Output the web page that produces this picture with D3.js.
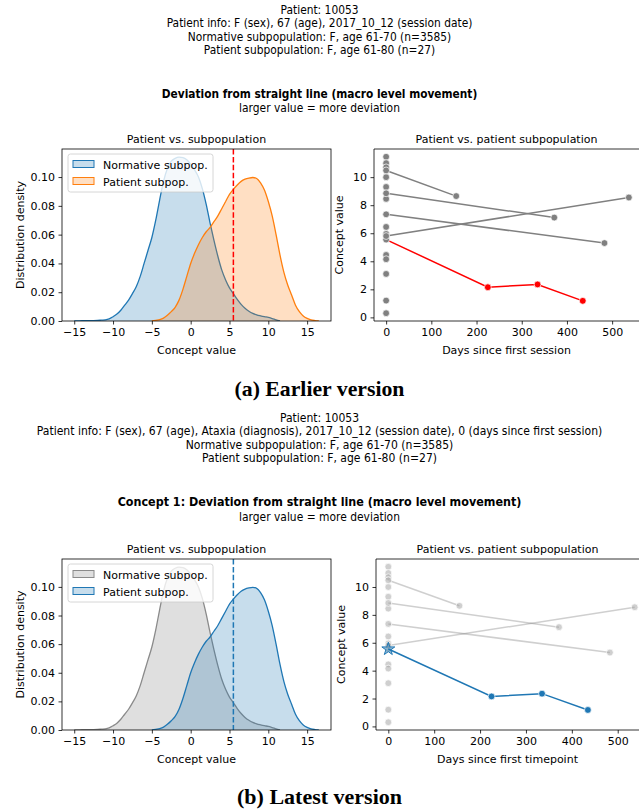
<!DOCTYPE html>
<html><head><meta charset="utf-8">
<script src="https://cdn.jsdelivr.net/npm/d3@7"></script>
<style>
body{margin:0;background:#fff}
svg{display:block}
text{font-family:"DejaVu Sans",sans-serif;fill:#000}
</style>
</head><body>
<svg id="fig" width="639" height="812"></svg>
<script>
// ---------------- DATA ----------------
const densityGrid = [-15,-14.5,-14,-13.5,-13,-12.5,-12,-11.5,-11,-10.5,
  -10,-9.5,-9,-8.5,-8,-7.5,-7,-6.5,-6,-5.5,
  -5,-4.5,-4,-3.5,-3,-2.5,-2,-1.5,-1,-0.5,
  0,0.5,1,1.5,2,2.5,3,3.5,4,4.5,
  5,5.5,6,6.5,7,7.5,8,8.5,9,9.5,
  10,10.5,11,11.5,12,12.5,13,13.5,14,14.5,
  15,15.5,16,16.5];
const normativeDensity = [0,0.0001,0.0002,0.0002,0.0003,0.0003,0.0004,0.0006,0.0008,0.0015,
  0.003,0.0048,0.0075,0.011,0.0145,0.019,0.024,0.031,0.040,0.049,
  0.058,0.070,0.084,0.097,0.106,0.111,0.113,0.1138,0.1135,0.112,
  0.109,0.105,0.100,0.092,0.081,0.068,0.056,0.045,0.0355,0.0285,
  0.023,0.019,0.015,0.0115,0.0088,0.0068,0.0053,0.0043,0.0036,0.003,
  0.0025,0.0017,0.0008,0,null,null,null,null,null,null,
  null,null,null,null];
const patientDensity = [null,null,null,null,null,null,null,null,null,null,
  null,null,null,null,null,null,null,null,null,null,
  0,0.0005,0.001,0.002,0.004,0.0065,0.0095,0.0145,0.022,0.031,
  0.040,0.047,0.053,0.058,0.062,0.065,0.069,0.073,0.078,0.083,
  0.088,0.0915,0.0945,0.097,0.0985,0.0993,0.0997,0.099,0.096,0.091,
  0.083,0.073,0.060,0.046,0.034,0.025,0.018,0.011,0.0065,0.0035,
  0.0018,0.0008,0.0003,0];
const patientConceptValue = 5.5;
const densityTicksX = [-15,-10,-5,0,5,10,15];
const densityTicksY = [0,0.02,0.04,0.06,0.08,0.10];

// patient subpopulation: single sessions (day 0) and multi-session trajectories
const subpopSingleValues = [11.45,11.0,10.7,10.0,9.3,8.45,6.45,5.95,5.55,4.45,4.15,3.1,1.2,0.3];
const subpopTrajDays   = [[0,155],[0,372],[0,483],[0,537]];
const subpopTrajValues = [[10.48,8.65],[8.85,7.12],[7.35,5.3],[5.8,8.55]];
const patientDays   = [0,225,335,435];
const patientValues = [5.55,2.15,2.35,1.18];
const dayTicks = [0,100,200,300,400,500];
const valueTicks = [0,2,4,6,8,10];

const headerA = ["Patient: 10053",
  "Patient info: F (sex), 67 (age), 2017_10_12 (session date)",
  "Normative subpopulation: F, age 61-70 (n=3585)",
  "Patient subpopulation: F, age 61-80 (n=27)"];
const headerB = ["Patient: 10053",
  "Patient info: F (sex), 67 (age), Ataxia (diagnosis), 2017_10_12 (session date), 0 (days since first session)",
  "Normative subpopulation: F, age 61-70 (n=3585)",
  "Patient subpopulation: F, age 61-80 (n=27)"];
const conceptTitleA = "Deviation from straight line (macro level movement)";
const conceptTitleB = "Concept 1:  Deviation from straight line (macro level movement)";
const conceptSubtitle = "larger value = more deviation";
const legendLabels = ["Normative subpop.","Patient subpop."];

// ---------------- DRAW ----------------
const svg = d3.select("#fig");
svg.append("rect").attr("width",639).attr("height",812).attr("fill","#fff");
const BLUE="#1f77b4", ORANGE="#ff7f0e";
const FS = "11px";

// centred text squeezed horizontally to a target width via a transform
function squeezed(y, s, width, opts){
  const g = svg.append("g");
  const t = g.append("text").attr("x",0).attr("y",0).attr("text-anchor","middle")
     .style("font-size",opts.size).style("font-weight",opts.weight||"normal").text(s);
  if(opts.family) t.style("font-family",opts.family);
  const w = t.node().getComputedTextLength();
  const k = width ? width / w : 1;
  g.attr("transform",`translate(319.5,${y}) scale(${k},1)`);
  return k;
}
function header(lines, y0, refWidth, refIdx, size){
  // measure the reference line to find a common squeeze factor
  const tmp = svg.append("text").style("font-size",size).text(lines[refIdx]);
  const k = refWidth / tmp.node().getComputedTextLength();
  tmp.remove();
  lines.forEach((s,i)=>{
    const g = svg.append("g").attr("transform",`translate(319.5,${y0+i*13.4}) scale(${k},1)`);
    g.append("text").attr("text-anchor","middle").style("font-size",size).text(s);
  });
}

function styleAxis(g){
  g.selectAll("path").remove();
  g.selectAll("line").attr("stroke","#000").attr("stroke-width",0.8);
  g.selectAll("text").style("font-size",FS).style("font-family","\"DejaVu Sans\",sans-serif").attr("fill","#000");
}
function frame(box){
  svg.append("rect").attr("x",box.l).attr("y",box.t).attr("width",box.r-box.l).attr("height",box.b-box.t)
    .attr("fill","none").attr("stroke","#000").attr("stroke-width",0.8);
}
function pad(ext){ const d=(ext[1]-ext[0])*0.05; return [ext[0]-d, ext[1]+d]; }

function densityPanel(box, normStyle, patStyle, lineColor){
  const xs = d3.scaleLinear().domain(pad([densityGrid[0], densityGrid[densityGrid.length-1]])).range([box.l,box.r]);
  const ymax = d3.max([...normativeDensity, ...patientDensity]);
  const ys = d3.scaleLinear().domain([0, ymax*1.05]).range([box.b,box.t]);
  const clipId = "c"+Math.round(box.t);
  svg.append("clipPath").attr("id",clipId).append("rect").attr("x",box.l).attr("y",box.t).attr("width",box.r-box.l).attr("height",box.b-box.t);
  const g = svg.append("g").attr("clip-path",`url(#${clipId})`);
  const series = [[normativeDensity,normStyle],[patientDensity,patStyle]];
  series.forEach(([vals,st])=>{
    const pts = densityGrid.map((x,i)=>[x,vals[i]]).filter(p=>p[1]!==null);
    const area = d3.area().x(p=>xs(p[0])).y0(ys(0)).y1(p=>ys(p[1])).curve(d3.curveMonotoneX);
    const line = d3.line().x(p=>xs(p[0])).y(p=>ys(p[1])).curve(d3.curveMonotoneX);
    g.append("path").attr("d",area(pts)).attr("fill",st.color).attr("fill-opacity",0.25);
    g.append("path").attr("d",line(pts)).attr("fill","none").attr("stroke",st.stroke||st.color).attr("stroke-width",1.3);
  });
  g.append("line").attr("x1",xs(patientConceptValue)).attr("x2",xs(patientConceptValue))
    .attr("y1",box.t).attr("y2",box.b).attr("stroke",lineColor).attr("stroke-width",1.5).attr("stroke-dasharray","5.5,2.4");
  const ax = svg.append("g").attr("transform",`translate(0,${box.b})`)
    .call(d3.axisBottom(xs).tickValues(densityTicksX).tickSize(3.5).tickPadding(3.5)); styleAxis(ax);
  const ay = svg.append("g").attr("transform",`translate(${box.l},0)`)
    .call(d3.axisLeft(ys).tickValues(densityTicksY).tickFormat(d3.format(".2f")).tickSize(3.5).tickPadding(3.5)); styleAxis(ay);
  frame(box);
  svg.append("text").attr("x",(box.l+box.r)/2).attr("y",box.b+33).attr("text-anchor","middle").style("font-size",FS).text("Concept value");
  svg.append("text").attr("transform",`translate(${24},${(box.t+box.b)/2}) rotate(-90)`).attr("text-anchor","middle").style("font-size",FS).text("Distribution density");
  svg.append("text").attr("x",(box.l+box.r)/2).attr("y",box.t-6).attr("text-anchor","middle").style("font-size",FS).text("Patient vs. subpopulation");
  // legend
  const lg = svg.append("g").attr("transform",`translate(${box.l+6},${box.t+5})`);
  lg.append("rect").attr("width",145).attr("height",38).attr("rx",2.5).attr("fill","#fff").attr("fill-opacity",0.8).attr("stroke","#cccccc").attr("stroke-width",0.8);
  [normStyle,patStyle].forEach((st,i)=>{
    const yy = 6 + i*17;
    lg.append("rect").attr("x",5).attr("y",yy+0.5).attr("width",21).attr("height",7).attr("fill",st.color).attr("fill-opacity",0.25)
      .attr("stroke",st.stroke||st.color).attr("stroke-width",1);
    lg.append("text").attr("x",35).attr("y",yy+8.5).style("font-size",FS).text(legendLabels[i]);
  });
}

function trajPanel(box, version){
  const xs = d3.scaleLinear().domain(pad([0, d3.max(subpopTrajDays.flat())])).range([box.l,box.r]);
  const allV = [...subpopSingleValues, ...subpopTrajValues.flat(), ...patientValues];
  const ys = d3.scaleLinear().domain(pad(d3.extent(allV))).range([box.b,box.t]);
  const clipId = "t"+Math.round(box.t);
  svg.append("clipPath").attr("id",clipId).append("rect").attr("x",box.l).attr("y",box.t).attr("width",639-box.l).attr("height",box.b-box.t);
  const g = svg.append("g").attr("clip-path",`url(#${clipId})`);
  const line = d3.line().x(d=>xs(d[0])).y(d=>ys(d[1]));
  const grayLine = version==="a" ? {c:"#808080",o:1} : {c:"#808080",o:0.38};
  const grayPt = version==="a" ? {c:"#808080",o:1} : {c:"#a0a0a0",o:0.5};
  const pColor = version==="a" ? "red" : BLUE;
  subpopTrajDays.forEach((ds,i)=>{
    const pts = ds.map((d,j)=>[d, subpopTrajValues[i][j]]);
    g.append("path").attr("d",line(pts)).attr("fill","none").attr("stroke",grayLine.c).attr("stroke-opacity",grayLine.o).attr("stroke-width",1.5);
  });
  const grayPts = [];
  subpopSingleValues.forEach(v=>grayPts.push([0,v]));
  subpopTrajDays.forEach((ds,i)=>ds.forEach((d,j)=>grayPts.push([d,subpopTrajValues[i][j]])));
  const drawGray = ()=> g.selectAll(null).data(grayPts).enter().append("circle")
      .attr("cx",d=>xs(d[0])).attr("cy",d=>ys(d[1])).attr("r",3.4)
      .attr("fill",grayPt.c).attr("fill-opacity",grayPt.o).attr("stroke","#fff").attr("stroke-width",0.7);
  if(version==="b") drawGray();
  const pPts = patientDays.map((d,i)=>[d,patientValues[i]]);
  g.append("path").attr("d",line(pPts)).attr("fill","none").attr("stroke",pColor).attr("stroke-width",1.5);
  g.selectAll(null).data(pPts.slice(1)).enter().append("circle")
    .attr("cx",d=>xs(d[0])).attr("cy",d=>ys(d[1])).attr("r",3.4)
    .attr("fill",pColor).attr("stroke","#fff").attr("stroke-width",0.7);
  if(version==="a") drawGray();
  if(version==="b"){
    g.append("path").attr("d",d3.symbol(d3.symbolStar,52)())
      .attr("transform",`translate(${xs(pPts[0][0])},${ys(pPts[0][1])})`)
      .attr("fill",BLUE).attr("fill-opacity",0.45).attr("stroke",BLUE).attr("stroke-width",1);
  }
  const ax = svg.append("g").attr("transform",`translate(0,${box.b})`)
    .call(d3.axisBottom(xs).tickValues(dayTicks).tickSize(3.5).tickPadding(3.5)); styleAxis(ax);
  const ay = svg.append("g").attr("transform",`translate(${box.l},0)`)
    .call(d3.axisLeft(ys).tickValues(valueTicks).tickSize(3.5).tickPadding(3.5)); styleAxis(ay);
  svg.append("path").attr("d",`M${box.l},${box.b}V${box.t}H${box.r}V${box.b}Z`).attr("fill","none").attr("stroke","#000").attr("stroke-width",0.8);
  const cx = (box.l + 639)/2;
  svg.append("text").attr("x",cx).attr("y",box.b+33).attr("text-anchor","middle").style("font-size",FS)
    .text(version==="a" ? "Days since first session" : "Days since first timepoint");
  svg.append("text").attr("transform",`translate(${box.l-31},${(box.t+box.b)/2}) rotate(-90)`).attr("text-anchor","middle").style("font-size",FS).text("Concept value");
  svg.append("text").attr("x",cx).attr("y",box.t-6).attr("text-anchor","middle").style("font-size",FS).text("Patient vs. patient subpopulation");
}

// ---- (a) earlier version ----
header(headerA, 14, 306, 1, "12px");
squeezed(98, conceptTitleA, 316, {size:"11.5px", weight:"bold"});
squeezed(112, conceptSubtitle, 161, {size:"11.5px"});
densityPanel({l:62,r:331,t:149,b:321}, {color:BLUE}, {color:ORANGE}, "red");
trajPanel({l:374,r:641,t:149,b:321}, "a");
squeezed(396, "(a) Earlier version", 170, {size:"21px", weight:"bold", family:"\"Liberation Serif\",serif"});

// ---- (b) latest version ----
header(headerB, 422, 566, 1, "12px");
squeezed(506, conceptTitleB, 404, {size:"11.5px", weight:"bold"});
squeezed(521, conceptSubtitle, 161, {size:"11.5px"});
densityPanel({l:62,r:331,t:559,b:730}, {color:"#808080", stroke:"#8a8a8a"}, {color:BLUE}, BLUE);
trajPanel({l:376,r:647,t:559,b:730}, "b");
squeezed(804, "(b) Latest version", 165, {size:"21px", weight:"bold", family:"\"Liberation Serif\",serif"});
</script>
</body></html>
